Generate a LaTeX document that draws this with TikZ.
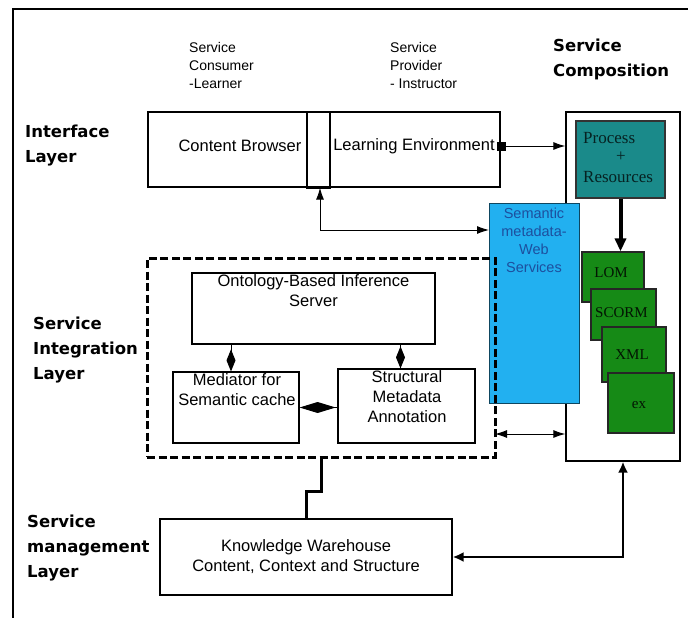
\documentclass[tikz,border=0pt]{standalone}
\usepackage{fontspec}
\setmainfont{Liberation Sans}
\newfontfamily\layerfont{DejaVu Sans}
\newfontfamily\serfont{Liberation Serif}
\usetikzlibrary{arrows.meta}
\definecolor{tealbox}{HTML}{1A8A8A}
\definecolor{semblue}{HTML}{22B0F0}
\definecolor{semtext}{HTML}{1D4F9E}
\definecolor{stdgreen}{HTML}{168A16}
\tikzset{
  layerlbl/.style = {font=\layerfont\bfseries\fontsize{16.5}{25}\selectfont, align=left, anchor=west, inner sep=0},
  rolelbl/.style = {font=\fontsize{14}{18}\selectfont, align=left, anchor=west, inner sep=0},
  plainbox/.style = {draw, line width=1.2pt, inner sep=0, fill=white},
  boxtxt/.style = {font=\fontsize{16.5}{20}\selectfont, align=center, inner sep=0},
  stdbox/.style = {draw=black!85, line width=1.2pt, fill=stdgreen, inner sep=0},
  stdtxt/.style = {font=\serfont\fontsize{15}{17}\selectfont, text=black!85!stdgreen, inner sep=0},
  arr/.style = {line width=1pt, -{Latex[length=12pt,width=8pt]}},
  dblarr/.style = {line width=1pt, {Latex[length=12pt,width=8pt]}-{Latex[length=12pt,width=8pt]}},
  thickarr/.style = {line width=2.6pt, {Latex[length=11pt,width=10pt]}-{Latex[length=11pt,width=10pt]}},
  dia/.style = {line width=1pt, -{Diamond[length=22pt,width=9pt]}},
}
\begin{document}
\begin{tikzpicture}[x=1pt, y=-1pt]
\useasboundingbox (0,0) rectangle (688,618);
% outer frame, cut at the page edges
\draw[line width=1.5pt] (13,618) -- (13,9) -- (688,9);
% layer and role labels
\node[layerlbl] (lblif) at (25,145.5) {Interface\\Layer};
\node[layerlbl] (lblint) at (33,350) {Service\\Integration\\Layer};
\node[layerlbl] (lblman) at (27,548) {Service\\management\\Layer};
\node[layerlbl] (lblcomp) at (553,59.5) {Service\\Composition};
\node[rolelbl] (consumer) at (189,65) {Service\\Consumer\\-Learner};
\node[rolelbl] (provider) at (390,65) {Service\\Provider\\- Instructor};
% interface layer
\node[plainbox, minimum width=352pt, minimum height=75pt] (ifbox) at (324,149.5) {};
\node[plainbox, minimum width=23pt, minimum height=75pt] (slot) at (318.5,149.5) {};
\draw[line width=2pt] (slot.south west) -- (slot.south east);
\node[boxtxt] (browser) at (240,146) {Content Browser};
\node[boxtxt] (learnenv) at (414,146) {Learning Environment};
\node[fill=black, minimum size=9pt, inner sep=0] (sq) at (501,146) {};
% service composition
\node[plainbox, minimum width=114pt, minimum height=349pt] (comp) at (623,286.5) {};
\node[draw=black!80, line width=1.2pt, fill=tealbox, minimum width=89pt, minimum height=77pt] (proc) at (620.5,159.5) {};
\node[font=\serfont\fontsize{17}{19}\selectfont, text=black!75!tealbox, anchor=west, inner sep=0] (proctxt) at (583,138) {Process};
\node[font=\serfont\fontsize{17}{19}\selectfont, text=black!75!tealbox, inner sep=0] (plustxt) at (621,157) {+};
\node[font=\serfont\fontsize{17}{19}\selectfont, text=black!75!tealbox, anchor=west, inner sep=0] (restxt) at (583,177) {Resources};
\foreach \nm/\cx/\cy/\w/\h/\txt/\ty in {lom/613/277/62/50/LOM/273, scorm/623.5/314.5/65/51/SCORM/313, xml/634/354.5/64/55/XML/355, ex/641/403/66/60/ex/405}
{
  \node[stdbox, minimum width=\w pt, minimum height=\h pt] (\nm) at (\cx,\cy) {};
  \node[stdtxt] (\nm txt) at (\cx-2,\ty) {\txt};
}
\draw[line width=4pt, -{Triangle[length=13pt,width=11pt]}] (proc.south) -- (proc.south |- lom.north);
% semantic web services
\node[draw=black!60!semblue, line width=1pt, fill=semblue, minimum width=90pt, minimum height=200pt] (sem) at (534,303) {};
\node[font=\fontsize{14.5}{18}\selectfont, text=semtext, align=center, inner sep=0] (semtxt) at (534,240) {Semantic\\metadata-\\Web\\Services};
% service integration layer
\node[draw, line width=3pt, dash pattern=on 8pt off 3.5pt, minimum width=348pt, minimum height=199pt, inner sep=0] (intbox) at (321,357.5) {};
\node[plainbox, minimum width=243pt, minimum height=71pt] (onto) at (313.5,308.5) {};
\node[boxtxt, anchor=north] (ontotxt) at (313.5,274) {Ontology-Based Inference\\Server};
\node[plainbox, minimum width=126pt, minimum height=71pt] (med) at (236,407.5) {};
\node[boxtxt, anchor=north] (medtxt) at (237,373) {Mediator for\\Semantic cache};
\node[plainbox, minimum width=137pt, minimum height=74pt] (str) at (406.5,406) {};
\node[boxtxt, anchor=north] (strtxt) at (407,370) {Structural\\Metadata\\Annotation};
\draw[dia] ([xshift=-5pt]med.north |- onto.south) -- ([xshift=-5pt]med.north);
\draw[dia] ([xshift=-6pt]str.north |- onto.south) -- ([xshift=-6pt]str.north);
\draw[line width=1pt, {Diamond[length=36pt,width=11pt]}-] (med.east) -- (med.east -| str.west);
% service management layer
\node[plainbox, minimum width=292pt, minimum height=76pt] (kw) at (306,557) {};
\node[boxtxt] (kwtxt) at (306,557) {Knowledge Warehouse\\Content, Context and Structure};
% connectors
\coordinate (semin) at (489,230);
\coordinate (lk) at (495,434);
\draw[arr] (sq.east) -- (sq.east -| comp.west);
\draw[dblarr] ([xshift=1.5pt]slot.south) |- (semin);
\draw[dblarr] (lk) -- (lk -| comp.west);
\draw[line width=3pt] (intbox.south) -- ++(0,33) -| (kw.north);
\draw[thickarr] (kw.east) -| (comp.south);
\end{tikzpicture}
\end{document}
